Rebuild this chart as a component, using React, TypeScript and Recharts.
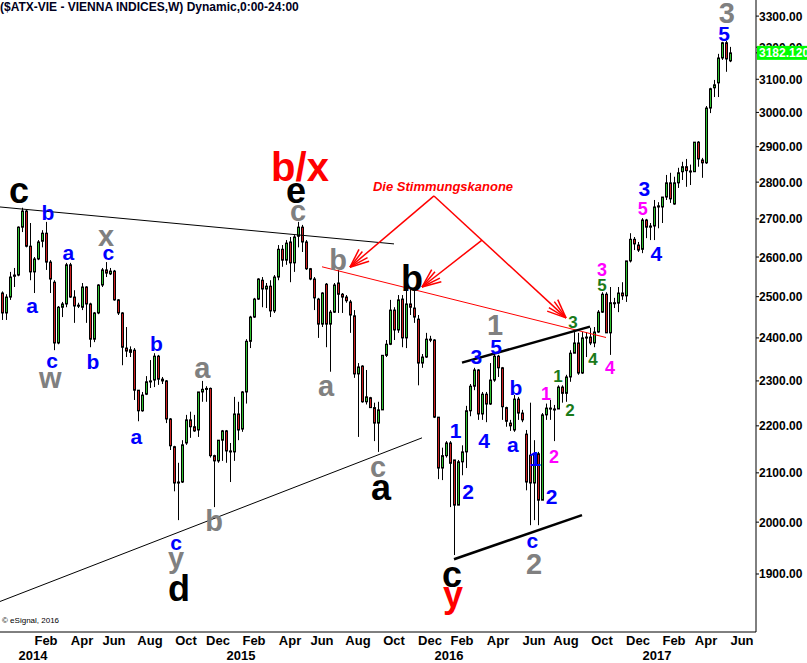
import { Bar, ComposedChart, ReferenceDot, ReferenceLine, XAxis, YAxis } from "recharts";

const FONT = '"Liberation Sans", Arial, sans-serif';
const WEEK_MS = 7 * 24 * 3600 * 1000;
const firstWeek = Date.UTC(2013, 10, 18);
const slotCount = 189;

// weekly candles, Nov 2013 .. May 2017
const opens = [
  2509, 2460, 2499, 2551, 2554, 2678, 2721, 2628, 2562, 2595,
  2641, 2662, 2587, 2536, 2388, 2474, 2482, 2580, 2499, 2477,
  2474, 2524, 2482, 2397, 2460, 2529, 2567, 2557, 2564, 2492,
  2460, 2376, 2366, 2371, 2279, 2233, 2270, 2298, 2302, 2357,
  2304, 2300, 2215, 2155, 2079, 2081, 2163, 2213, 2198, 2191,
  2275, 2281, 2283, 2136, 2125, 2169, 2189, 2146, 2144, 2226,
  2193, 2275, 2392, 2450, 2494, 2541, 2519, 2526, 2465, 2549,
  2620, 2592, 2639, 2585, 2654, 2678, 2639, 2570, 2544, 2494,
  2433, 2531, 2433, 2462, 2534, 2506, 2499, 2487, 2453, 2316,
  2334, 2253, 2262, 2240, 2206, 2235, 2359, 2385, 2467, 2419,
  2494, 2400, 2482, 2472, 2445, 2341, 2355, 2397, 2395, 2219,
  2110, 2136, 2163, 2127, 2034, 2123, 2144, 2233, 2288, 2325,
  2226, 2270, 2248, 2302, 2357, 2330, 2240, 2206, 2191, 2259,
  2228, 2182, 2137, 2079, 2140, 2044, 2224, 2237, 2235, 2237,
  2286, 2272, 2309, 2364, 2388, 2318, 2400, 2402, 2388, 2414,
  2462, 2506, 2412, 2485, 2484, 2509, 2502, 2590, 2646, 2631,
  2620, 2697, 2678, 2681, 2732, 2732, 2759, 2798, 2740, 2798,
  2829, 2843, 2829, 2829, 2913, 2862, 2854, 3013, 3074, 3089,
  3166, 3214, 3157,
];
const highs = [
  2513, 2506, 2562, 2572, 2680, 2730, 2724, 2689, 2600, 2644,
  2670, 2692, 2592, 2541, 2477, 2487, 2585, 2585, 2516, 2485,
  2534, 2526, 2485, 2462, 2531, 2572, 2587, 2572, 2567, 2494,
  2462, 2426, 2380, 2376, 2279, 2275, 2311, 2348, 2364, 2360,
  2309, 2302, 2217, 2157, 2121, 2169, 2224, 2231, 2224, 2275,
  2300, 2288, 2285, 2138, 2169, 2191, 2191, 2163, 2264, 2253,
  2277, 2397, 2453, 2497, 2546, 2549, 2534, 2541, 2554, 2631,
  2631, 2644, 2652, 2657, 2692, 2684, 2644, 2572, 2549, 2497,
  2511, 2534, 2467, 2534, 2567, 2509, 2504, 2492, 2467, 2341,
  2336, 2325, 2264, 2251, 2253, 2359, 2395, 2492, 2474, 2504,
  2504, 2516, 2519, 2516, 2455, 2362, 2412, 2405, 2397, 2219,
  2153, 2167, 2167, 2127, 2127, 2158, 2244, 2293, 2330, 2327,
  2275, 2275, 2341, 2364, 2360, 2332, 2242, 2213, 2268, 2264,
  2235, 2191, 2251, 2169, 2144, 2228, 2249, 2257, 2246, 2290,
  2290, 2314, 2371, 2414, 2412, 2414, 2414, 2424, 2426, 2467,
  2511, 2511, 2524, 2497, 2524, 2536, 2590, 2662, 2652, 2639,
  2702, 2700, 2689, 2751, 2745, 2759, 2820, 2826, 2815, 2840,
  2857, 2865, 2849, 2913, 2916, 2868, 3019, 3074, 3098, 3179,
  3217, 3220, 3201,
];
const lows = [
  2443, 2443, 2492, 2524, 2551, 2665, 2625, 2541, 2509, 2592,
  2625, 2567, 2509, 2371, 2385, 2450, 2474, 2497, 2436, 2472,
  2467, 2436, 2378, 2390, 2457, 2524, 2549, 2554, 2490, 2455,
  2336, 2355, 2355, 2257, 2210, 2231, 2268, 2284, 2286, 2291,
  2293, 2206, 2148, 2062, 2004, 2079, 2159, 2174, 2187, 2176,
  2253, 2253, 2132, 2030, 2121, 2125, 2121, 2081, 2125, 2169,
  2187, 2249, 2376, 2448, 2492, 2474, 2472, 2450, 2460, 2541,
  2575, 2580, 2536, 2562, 2625, 2613, 2567, 2541, 2467, 2400,
  2426, 2378, 2321, 2460, 2460, 2460, 2485, 2412, 2307, 2176,
  2251, 2247, 2240, 2167, 2144, 2235, 2355, 2383, 2395, 2412,
  2378, 2376, 2455, 2436, 2290, 2330, 2353, 2390, 2217, 2087,
  2085, 2132, 2030, 1936, 2034, 2095, 2110, 2221, 2279, 2213,
  2213, 2208, 2246, 2298, 2309, 2213, 2198, 2189, 2187, 2213,
  2208, 2064, 1994, 2004, 1994, 2073, 2213, 2213, 2167, 2237,
  2251, 2253, 2298, 2366, 2314, 2316, 2355, 2383, 2378, 2412,
  2460, 2412, 2360, 2472, 2462, 2492, 2487, 2586, 2618, 2613,
  2610, 2649, 2644, 2644, 2675, 2689, 2751, 2743, 2738, 2784,
  2806, 2787, 2792, 2829, 2843, 2812, 2851, 2998, 3046, 3046,
  3160, 3123, 3153,
];
const closes = [
  2460, 2499, 2549, 2554, 2678, 2721, 2628, 2562, 2595, 2639,
  2662, 2587, 2544, 2388, 2474, 2482, 2580, 2499, 2477, 2479,
  2524, 2482, 2397, 2460, 2529, 2567, 2559, 2564, 2492, 2460,
  2378, 2369, 2372, 2279, 2233, 2268, 2298, 2300, 2357, 2304,
  2300, 2215, 2157, 2079, 2081, 2159, 2213, 2198, 2189, 2275,
  2281, 2283, 2136, 2125, 2169, 2189, 2146, 2144, 2226, 2191,
  2275, 2392, 2450, 2494, 2544, 2519, 2526, 2465, 2549, 2620,
  2592, 2636, 2585, 2652, 2678, 2639, 2570, 2544, 2497, 2433,
  2509, 2433, 2462, 2529, 2506, 2499, 2490, 2455, 2316, 2332,
  2253, 2264, 2240, 2206, 2235, 2359, 2385, 2467, 2419, 2492,
  2400, 2482, 2474, 2450, 2341, 2355, 2397, 2395, 2219, 2110,
  2136, 2163, 2120, 2034, 2123, 2144, 2233, 2288, 2325, 2226,
  2270, 2248, 2302, 2357, 2330, 2242, 2210, 2200, 2259, 2228,
  2213, 2081, 2079, 2140, 2044, 2224, 2239, 2239, 2237, 2286,
  2272, 2309, 2364, 2388, 2318, 2400, 2402, 2388, 2414, 2462,
  2506, 2412, 2485, 2484, 2509, 2502, 2590, 2646, 2634, 2618,
  2697, 2678, 2681, 2732, 2735, 2759, 2798, 2754, 2798, 2826,
  2843, 2832, 2831, 2913, 2865, 2854, 3013, 3071, 3083, 3166,
  3214, 3163, 3182,
];

const priceTicks = [1900, 2000, 2100, 2200, 2300, 2400, 2500, 2600, 2700, 2800, 2900, 3000, 3100, 3200, 3300];
const lastPrice = 3182.12;
const monthNames = ["Jan", "Feb", "Mar", "Apr", "May", "Jun", "Jul", "Aug", "Sep", "Oct", "Nov", "Dec"];

// wave labels: week index, price level, text, style
const notes = [
  { i: 4.25, p: 2770, t: "c", k: "black" },
  { i: 11.5, p: 2716, t: "b", k: "blue" },
  { i: 16.6, p: 2608, t: "a", k: "blue" },
  { i: 26, p: 2650, t: "x", k: "gray" },
  { i: 26.6, p: 2606, t: "c", k: "blue" },
  { i: 7.5, p: 2473, t: "a", k: "blue" },
  { i: 12.5, p: 2342, t: "c", k: "blue" },
  { i: 12.1, p: 2302, t: "w", k: "gray" },
  { i: 22.7, p: 2344, t: "b", k: "blue" },
  { i: 38.6, p: 2387, t: "b", k: "blue" },
  { i: 33.6, p: 2172, t: "a", k: "blue" },
  { i: 50.1, p: 2325, t: "a", k: "gray" },
  { i: 43.5, p: 1957, t: "c", k: "blue" },
  { i: 43.5, p: 1920, t: "y", k: "gray" },
  { i: 44.25, p: 1874, t: "d", k: "black" },
  { i: 53, p: 2004, t: "b", k: "gray" },
  { i: 74.5, p: 2843, t: "b/x", k: "redBig" },
  { i: 73.5, p: 2768, t: "e", k: "black" },
  { i: 74, p: 2716, t: "c", k: "gray" },
  { i: 84, p: 2594, t: "b", k: "gray" },
  { i: 81, p: 2284, t: "a", k: "gray" },
  { i: 102.5, p: 2546, t: "b", k: "black" },
  { i: 94, p: 2108, t: "c", k: "gray" },
  { i: 94.75, p: 2064, t: "a", k: "black" },
  { i: 123.25, p: 2433, t: "1", k: "gray" },
  { i: 123.5, p: 2381, t: "5", k: "blue" },
  { i: 118.6, p: 2357, t: "3", k: "blue" },
  { i: 113.4, p: 2191, t: "1", k: "blue" },
  { i: 120.5, p: 2169, t: "4", k: "blue" },
  { i: 116.5, p: 2062, t: "2", k: "blue" },
  { i: 128.5, p: 2285, t: "b", k: "blue" },
  { i: 127.7, p: 2155, t: "a", k: "blue" },
  { i: 133.25, p: 2131, t: "1", k: "blue" },
  { i: 137.4, p: 2052, t: "2", k: "blue" },
  { i: 132.6, p: 1960, t: "c", k: "blue" },
  { i: 133, p: 1920, t: "2", k: "gray" },
  { i: 112.5, p: 1894, t: "c", k: "black" },
  { i: 112.75, p: 1849, t: "y", k: "red" },
  { i: 136, p: 2272, t: "1", k: "magenta" },
  { i: 138, p: 2135, t: "2", k: "magenta" },
  { i: 139, p: 2312, t: "1", k: "green" },
  { i: 142, p: 2235, t: "2", k: "green" },
  { i: 142.75, p: 2438, t: "3", k: "green" },
  { i: 147.75, p: 2351, t: "4", k: "green" },
  { i: 152, p: 2330, t: "4", k: "magenta" },
  { i: 150, p: 2530, t: "5", k: "green" },
  { i: 150, p: 2569, t: "3", k: "magenta" },
  { i: 163.6, p: 2608, t: "4", k: "blue" },
  { i: 160.2, p: 2729, t: "5", k: "magenta" },
  { i: 160.6, p: 2782, t: "3", k: "blue" },
  { i: 180.5, p: 3243, t: "5", k: "blue" },
  { i: 181.2, p: 3311, t: "3", k: "gray" },
];

const trendLines = [
  { a: [-0.5, 2732], b: [98, 2634], k: "thin" },
  { a: [-0.5, 1849], b: [105, 2174], k: "thin" },
  { a: [80, 2575], b: [151, 2401], k: "red" },
  { a: [115, 2342], b: [147, 2427], k: "thick" },
  { a: [113, 1928], b: [145, 2014], k: "thick" },
];

const arrows = [
  { a: [108, 2762], b: [87, 2574] },
  { a: [108, 2762], b: [141, 2448] },
  { a: [120, 2644], b: [105, 2524] },
];

const calloutText = { i: 110.25, p: 2789, t: "Die Stimmungskanone" };

const noteStyles: Record<string, { fill: string; size: number }> = {
  black: { fill: "#000000", size: 36 },
  gray: { fill: "#808080", size: 29 },
  blue: { fill: "#0000ff", size: 21 },
  magenta: { fill: "#ff00ff", size: 18 },
  green: { fill: "#1a7a1a", size: 17 },
  red: { fill: "#ff0000", size: 36 },
  redBig: { fill: "#ff0000", size: 40 },
};

const lineStyles: Record<string, { stroke: string; width: number }> = {
  thin: { stroke: "#000000", width: 1 },
  thick: { stroke: "#000000", width: 2.5 },
  red: { stroke: "#ff0000", width: 1 },
};

const rows = Array.from({ length: slotCount }, (_, i) => ({
  i,
  open: opens[i],
  high: highs[i],
  low: lows[i],
  close: closes[i],
}));

const weekDate = (i: number) => new Date(firstWeek + i * WEEK_MS);

// first week of Jan (year label) and of every even month; nothing before 2014
const weekTicks = rows
  .map((r) => r.i)
  .filter((i) => {
    const d = weekDate(i);
    const m = d.getUTCMonth();
    return d.getUTCFullYear() >= 2014 && d.getUTCDate() <= 7 && (m === 0 || m % 2 === 1);
  });

function Candle(props: any) {
  const { x, y, width, height, payload } = props;
  if (!payload || payload.high == null) return null;
  const { open, close, high, low } = payload;
  const lh = Math.log(high);
  const ll = Math.log(low);
  const toY = (v: number) => (lh === ll ? y : y + (height * (lh - Math.log(v))) / (lh - ll));
  const cx = Math.round(x + width / 2);
  const top = toY(Math.max(open, close));
  const bottom = toY(Math.min(open, close));
  return (
    <g>
      <line x1={cx + 0.5} x2={cx + 0.5} y1={y} y2={y + height} stroke="#000" strokeWidth={1} />
      <rect
        x={cx - 0.5}
        y={top}
        width={2}
        height={Math.max(bottom - top, 1)}
        fill={close >= open ? "#2fc12f" : "#cc1f1f"}
        stroke="#000"
        strokeWidth={1}
      />
    </g>
  );
}

function shiftFor(t: string) {
  if (/^[acewx]+$/.test(t)) return 0.27;
  if (t === "y") return 0.16;
  return 0.36;
}

function NoteMark(props: any) {
  const { cx, cy, note } = props;
  const st = noteStyles[note.k];
  return (
    <text
      x={cx}
      y={cy + st.size * shiftFor(note.t)}
      textAnchor="middle"
      fill={st.fill}
      fontSize={st.size}
      fontWeight="bold"
      fontFamily={FONT}
    >
      {note.t}
    </text>
  );
}

function Arrow(props: any) {
  const { x1, y1, x2, y2 } = props;
  const back = Math.atan2(y1 - y2, x1 - x2);
  const fan = [-0.4, -0.2, 0.2, 0.4];
  return (
    <g stroke="#ff0000" strokeWidth={1.5} fill="none">
      <line x1={x1} y1={y1} x2={x2} y2={y2} />
      {fan.map((a) => (
        <line key={a} x1={x2} y1={y2} x2={x2 + 20 * Math.cos(back + a)} y2={y2 + 20 * Math.sin(back + a)} />
      ))}
    </g>
  );
}

function PriceTick(props: any) {
  const { x, y, payload } = props;
  const v = payload.value;
  if (v === lastPrice) {
    return (
      <g>
        <rect x={757} y={y - 7} width={50} height={14} fill="#00ff00" />
        <text x={759} y={y + 4.5} fill="#ffffff" fontSize={12} fontWeight="bold" fontFamily={FONT}>
          {v.toFixed(3)}
        </text>
      </g>
    );
  }
  return (
    <text x={x} y={y + 4.5} fill="#000" fontSize={12} fontWeight="bold" fontFamily={FONT}>
      {v.toFixed(2)}
    </text>
  );
}

function WeekTick(props: any) {
  const { x, payload } = props;
  const d = weekDate(payload.value);
  const m = d.getUTCMonth();
  if (m === 0) {
    return (
      <text x={x + 3} y={660} textAnchor="middle" fill="#000" fontSize={13} fontWeight="bold" fontFamily={FONT}>
        {d.getUTCFullYear()}
      </text>
    );
  }
  return (
    <text x={x} y={645} textAnchor="middle" fill="#000" fontSize={13} fontWeight="bold" fontFamily={FONT}>
      {monthNames[m]}
    </text>
  );
}

export default function App() {
  return (
    <div style={{ position: "absolute", left: 0, top: 0, width: 807, height: 663, background: "#fff" }}>
      <ComposedChart width={807} height={663} data={rows} margin={{ top: 0, right: 0, bottom: 0, left: 0 }}>
        <XAxis
          dataKey="i"
          type="number"
          domain={[-0.5, slotCount - 0.5]}
          allowDataOverflow
          ticks={weekTicks}
          interval={0}
          tickLine={false}
          axisLine={{ stroke: "#000" }}
          height={31}
          tick={<WeekTick />}
        />
        <YAxis
          orientation="right"
          scale="log"
          type="number"
          domain={[1794, 3353]}
          allowDataOverflow
          ticks={[...priceTicks, lastPrice]}
          interval={0}
          width={51}
          tickSize={3}
          tickMargin={0}
          axisLine={{ stroke: "#000" }}
          tickLine={{ stroke: "#000" }}
          tick={<PriceTick />}
        />
        {trendLines.map((l, k) => (
          <ReferenceLine
            key={`t${k}`}
            segment={[
              { x: l.a[0], y: l.a[1] },
              { x: l.b[0], y: l.b[1] },
            ]}
            stroke={lineStyles[l.k].stroke}
            strokeWidth={lineStyles[l.k].width}
            ifOverflow="visible"
          />
        ))}
        <Bar dataKey={(d: any) => (d.high == null ? null : [d.low, d.high])} barSize={4} shape={<Candle />} isAnimationActive={false} />
        {arrows.map((l, k) => (
          <ReferenceLine
            key={`a${k}`}
            segment={[
              { x: l.a[0], y: l.a[1] },
              { x: l.b[0], y: l.b[1] },
            ]}
            ifOverflow="visible"
            shape={(p: any) => <Arrow {...p} />}
          />
        ))}
        <ReferenceDot
          x={calloutText.i}
          y={calloutText.p}
          ifOverflow="visible"
          shape={(p: any) => (
            <text
              x={p.cx}
              y={p.cy + 4.5}
              textAnchor="middle"
              fill="#ff0000"
              fontSize={13}
              fontWeight="bold"
              fontStyle="italic"
              fontFamily={FONT}
            >
              {calloutText.t}
            </text>
          )}
        />
        {notes.map((n, k) => (
          <ReferenceDot
            key={`n${k}`}
            x={n.i}
            y={n.p}
            ifOverflow="visible"
            shape={(p: any) => <NoteMark {...p} note={n} />}
          />
        ))}
      </ComposedChart>
      <div
        style={{
          position: "absolute",
          left: 0,
          top: 0,
          fontFamily: FONT,
          fontSize: 12,
          fontWeight: "bold",
          lineHeight: "14px",
          color: "#000020",
          whiteSpace: "nowrap",
        }}
      >
        ($ATX-VIE - VIENNA INDICES,W) Dynamic,0:00-24:00
      </div>
      <div
        style={{
          position: "absolute",
          left: 2,
          top: 616,
          fontFamily: FONT,
          fontSize: 8,
          lineHeight: "10px",
          color: "#000",
          whiteSpace: "nowrap",
        }}
      >
        © eSignal, 2016
      </div>
    </div>
  );
}
